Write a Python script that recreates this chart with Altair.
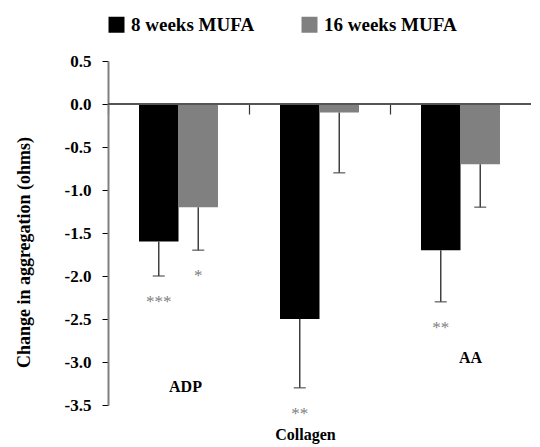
import altair as alt
import pandas as pd

categories = ["ADP", "Collagen", "AA"]
series = ["8 weeks MUFA", "16 weeks MUFA"]
values_8w = [-1.6, -2.5, -1.7]
values_16w = [-1.2, -0.1, -0.7]
errors_8w = [0.4, 0.8, 0.6]
errors_16w = [0.5, 0.7, 0.5]
stars_8w = ["***", "**", "**"]
stars_16w = ["*", "", ""]
# category annotation anchors (data units)
label_y = [-3.29, -3.85, -2.95]
label_dx = [7, -14, 10]

rows = []
for i, c in enumerate(categories):
    rows.append({"cat": c, "series": series[0], "value": values_8w[i],
                 "low": values_8w[i] - errors_8w[i], "star": stars_8w[i]})
    rows.append({"cat": c, "series": series[1], "value": values_16w[i],
                 "low": values_16w[i] - errors_16w[i], "star": stars_16w[i]})
df = pd.DataFrame(rows)

FONT = "Liberation Serif"
xscale = alt.Scale(domain=categories, range=[0, 423], paddingInner=0, paddingOuter=0)
yscale = alt.Scale(domain=[-3.5, 0.5], nice=False, zero=False)
offscale = alt.Scale(domain=series, paddingInner=0, paddingOuter=0.785)

x_enc = alt.X("cat:N", sort=categories, scale=xscale,
              axis=alt.Axis(title=None, labels=False, domain=False, ticks=True,
                            bandPosition=0, tickSize=10, tickColor="#333333",
                            tickWidth=1.2, offset=-301))
xo = alt.XOffset("series:N", sort=series, scale=offscale)

bars = alt.Chart(df).mark_bar().encode(
    x=x_enc,
    xOffset=xo,
    y=alt.Y("value:Q", scale=yscale,
            axis=alt.Axis(title="Change in aggregation (ohms)",
                          values=[0.5, 0, -0.5, -1, -1.5, -2, -2.5, -3, -3.5],
                          labelExpr="replace(format(datum.value, '.1f'), '\u2212', '-')",
                          grid=False, tickSize=6, tickColor="#000000",
                          domainColor="#808080", domainWidth=2,
                          labelFont=FONT, labelFontSize=17, labelFontWeight="bold",
                          labelColor="#000000", labelPadding=11,
                          titleFont=FONT, titleFontSize=18, titleFontWeight="bold",
                          titleColor="#000000", titleX=-79, titleY=191,
                          titleAlign="center", titleBaseline="alphabetic",
                          titleAngle=270)),
    y2=alt.datum(0),
    color=alt.Color("series:N", sort=series,
                    scale=alt.Scale(domain=series, range=["#000000", "#808080"]),
                    legend=alt.Legend(title=None, orient="none", direction="horizontal",
                                      legendX=-1, legendY=-46, symbolType="square",
                                      symbolSize=256, symbolStrokeWidth=0,
                                      labelFont=FONT, labelFontSize=19,
                                      labelFontWeight="bold", labelColor="#000000",
                                      labelOffset=5, columnPadding=45, padding=0)),
)

zero = alt.Chart(df).mark_rule(color="#555555", strokeWidth=2).encode(
    y=alt.datum(0, scale=yscale),
    x=alt.value(0), x2=alt.value(432),
)

err = alt.Chart(df).mark_rule(color="#404040", strokeWidth=1.5).encode(
    x=alt.X("cat:N", sort=categories, scale=xscale), xOffset=xo,
    y=alt.Y("value:Q", scale=yscale), y2="low:Q",
)
caps = alt.Chart(df).mark_tick(color="#404040", thickness=1.5, size=12, orient="horizontal").encode(
    x=alt.X("cat:N", sort=categories, scale=xscale), xOffset=xo,
    y=alt.Y("low:Q", scale=yscale),
)
stars = alt.Chart(df).mark_text(font=FONT, fontSize=17, color="#808080",
                                baseline="middle", dy=26).encode(
    x=alt.X("cat:N", sort=categories, scale=xscale), xOffset=xo,
    y=alt.Y("low:Q", scale=yscale),
    text="star:N",
)

label_layers = []
for c, ly, ldx in zip(categories, label_y, label_dx):
    d = pd.DataFrame({"cat": [c], "y": [ly]})
    label_layers.append(
        alt.Chart(d).mark_text(font=FONT, fontSize=16, fontWeight="bold",
                               color="#000000", baseline="middle", dx=ldx).encode(
            x=alt.X("cat:N", sort=categories, scale=xscale),
            y=alt.Y("y:Q", scale=yscale),
            text="cat:N",
        )
    )

chart = alt.layer(bars, zero, err, caps, stars, *label_layers).properties(
    width=423, height=344,
    autosize=alt.AutoSizeParams(type="none"),
    padding={"left": 100, "top": 53, "right": 0, "bottom": 40},
).configure_view(stroke=None, clip=False)

chart.save("out.html", embed_options={"renderer": "svg", "actions": False})
